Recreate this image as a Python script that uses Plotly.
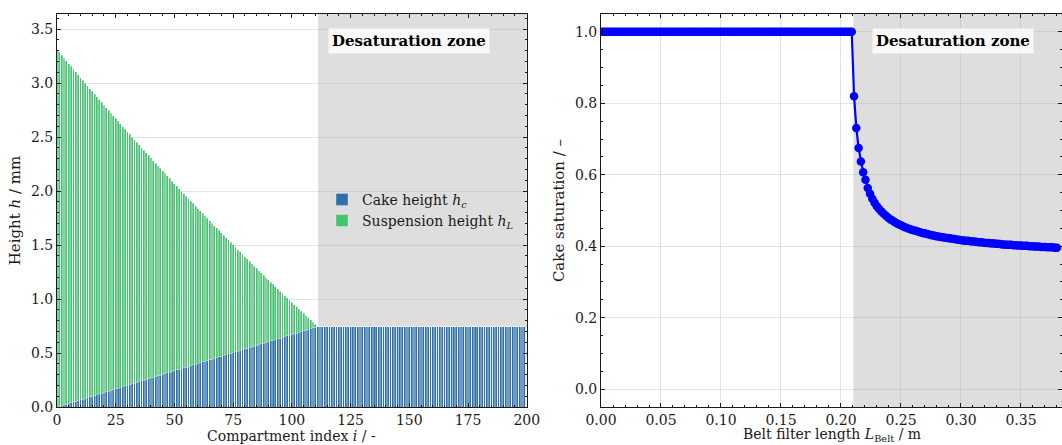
import plotly.graph_objects as go

# ---------------- data ----------------
compartment_index = list(range(200))

cake_height = [
    0.000, 0.007, 0.013, 0.020, 0.027, 0.034, 0.040, 0.047, 0.054, 0.060,
    0.067, 0.074, 0.081, 0.087, 0.094, 0.101, 0.108, 0.114, 0.121, 0.128,
    0.134, 0.141, 0.148, 0.155, 0.161, 0.168, 0.175, 0.181, 0.188, 0.195,
    0.202, 0.208, 0.215, 0.222, 0.228, 0.235, 0.242, 0.249, 0.255, 0.262,
    0.269, 0.276, 0.282, 0.289, 0.296, 0.302, 0.309, 0.316, 0.323, 0.329,
    0.336, 0.343, 0.349, 0.356, 0.363, 0.370, 0.376, 0.383, 0.390, 0.396,
    0.403, 0.410, 0.417, 0.423, 0.430, 0.437, 0.444, 0.450, 0.457, 0.464,
    0.470, 0.477, 0.484, 0.491, 0.497, 0.504, 0.511, 0.517, 0.524, 0.531,
    0.538, 0.544, 0.551, 0.558, 0.564, 0.571, 0.578, 0.585, 0.591, 0.598,
    0.605, 0.612, 0.618, 0.625, 0.632, 0.638, 0.645, 0.652, 0.659, 0.665,
    0.672, 0.679, 0.685, 0.692, 0.699, 0.706, 0.712, 0.719, 0.726, 0.732,
    0.739,
] + [0.742] * 89

suspension_height = [
    3.310, 3.277, 3.244, 3.212, 3.179, 3.146, 3.114, 3.081, 3.049, 3.016,
    2.984, 2.951, 2.919, 2.887, 2.855, 2.823, 2.791, 2.759, 2.727, 2.695,
    2.663, 2.631, 2.599, 2.568, 2.536, 2.505, 2.473, 2.442, 2.410, 2.379,
    2.348, 2.317, 2.285, 2.254, 2.223, 2.192, 2.161, 2.130, 2.100, 2.069,
    2.038, 2.007, 1.977, 1.946, 1.916, 1.885, 1.855, 1.825, 1.794, 1.764,
    1.734, 1.704, 1.674, 1.644, 1.614, 1.584, 1.554, 1.524, 1.495, 1.465,
    1.435, 1.406, 1.376, 1.347, 1.318, 1.288, 1.259, 1.230, 1.201, 1.172,
    1.143, 1.114, 1.085, 1.056, 1.027, 0.998, 0.969, 0.941, 0.912, 0.884,
    0.855, 0.827, 0.798, 0.770, 0.742, 0.713, 0.685, 0.657, 0.629, 0.601,
    0.573, 0.545, 0.518, 0.490, 0.462, 0.434, 0.407, 0.379, 0.352, 0.324,
    0.297, 0.270, 0.242, 0.215, 0.188, 0.161, 0.134, 0.107, 0.080, 0.053,
    0.026,
] + [0.0] * 89

segment_length = 0.0019  # m per compartment
belt_length = [round(k * segment_length, 4) for k in range(201)]

cake_saturation = [1.0] * 111 + [
    0.820, 0.731, 0.675, 0.637, 0.607, 0.586, 0.563, 0.547, 0.533, 0.522,
    0.512, 0.504, 0.497, 0.491, 0.485, 0.480, 0.475, 0.471, 0.467, 0.463,
    0.460, 0.457, 0.454, 0.452, 0.449, 0.447, 0.445, 0.443, 0.441, 0.439,
    0.437, 0.436, 0.434, 0.433, 0.431, 0.430, 0.428, 0.427, 0.426, 0.425,
    0.424, 0.423, 0.422, 0.421, 0.420, 0.419, 0.418, 0.417, 0.416, 0.415,
    0.415, 0.414, 0.413, 0.413, 0.412, 0.411, 0.411, 0.410, 0.409, 0.409,
    0.408, 0.408, 0.407, 0.407, 0.406, 0.405, 0.405, 0.404, 0.404, 0.404,
    0.403, 0.403, 0.402, 0.402, 0.401, 0.401, 0.401, 0.400, 0.400, 0.399,
    0.399, 0.399, 0.398, 0.398, 0.398, 0.397, 0.397, 0.397, 0.396, 0.396,
]

desat_start_compartment = 111.2
desat_start_length = 0.2103

left_xticks = [0, 25, 50, 75, 100, 125, 150, 175, 200]
left_yticks = [0.0, 0.5, 1.0, 1.5, 2.0, 2.5, 3.0, 3.5]
right_xticks = [0.00, 0.05, 0.10, 0.15, 0.20, 0.25, 0.30, 0.35]
right_yticks = [0.0, 0.2, 0.4, 0.6, 0.8, 1.0]

# ---------------- style ----------------
FONT = "DejaVu Serif"
BLUE_BAR = "#2e6fae"
GREEN_BAR = "#44c46f"
LINE_BLUE = "#0000ff"
ZONE_GRAY = "#dedede"
GRID = "rgba(176,176,176,0.35)"
AXIS = "#1a1a1a"

fig = go.Figure()

fig.add_trace(go.Bar(
    x=compartment_index, y=cake_height, name="Cake height <i>h</i><sub><i>c</i></sub>",
    marker=dict(color=BLUE_BAR, line=dict(width=0.35, color="rgba(255,255,255,0.9)")),
    xaxis="x", yaxis="y",
))
fig.add_trace(go.Bar(
    x=compartment_index, y=suspension_height, name="Suspension height <i>h</i><sub><i>L</i></sub>",
    marker=dict(color=GREEN_BAR, line=dict(width=0.35, color="rgba(255,255,255,0.9)")),
    xaxis="x", yaxis="y",
))
fig.add_trace(go.Scatter(
    x=belt_length, y=cake_saturation, mode="lines+markers",
    line=dict(color=LINE_BLUE, width=2.2),
    marker=dict(color=LINE_BLUE, size=8.5),
    showlegend=False, xaxis="x2", yaxis="y2",
))


def axis_common():
    return dict(
        ticks="inside", ticklen=4, tickwidth=1, tickcolor=AXIS,
        showline=True, linecolor=AXIS, linewidth=1, mirror="allticks",
        zeroline=False,
        tickfont=dict(family=FONT, size=14, color=AXIS),
        title_font=dict(family=FONT, size=15, color=AXIS),
        automargin=False,
    )


title_font = dict(family=FONT, size=14, color=AXIS)
PLOT_H = 445 - 14 - 38

fig.update_layout(
    width=1062, height=445,
    margin=dict(l=57, r=0, t=14, b=38),
    paper_bgcolor="white", plot_bgcolor="white",
    barmode="stack", bargap=0.2,
    font=dict(family=FONT, size=14, color=AXIS),
    xaxis=dict(
        domain=[0, 0.4674], range=[0, 200], tickvals=left_xticks,
        showgrid=False,
        minor=dict(dtick=5, ticks="inside", ticklen=2, tickcolor=AXIS, showgrid=False),
        anchor="y",
        **axis_common(),
    ),
    yaxis=dict(
        domain=[0, 1], range=[0, 3.64], tickvals=left_yticks, tickformat=".1f",
        showgrid=True, gridcolor=GRID, gridwidth=1,
        minor=dict(dtick=0.1, ticks="inside", ticklen=2, tickcolor=AXIS, showgrid=False),
        title=dict(text="Height <i>h</i> / mm", standoff=6),
        anchor="x",
        **axis_common(),
    ),
    xaxis2=dict(
        domain=[0.5413, 1.0], range=[0, 0.3842], tickvals=right_xticks, tickformat=".2f",
        showgrid=True, gridcolor=GRID, gridwidth=1,
        minor=dict(dtick=0.01, ticks="inside", ticklen=2, tickcolor=AXIS, showgrid=False),
        anchor="y2",
        **axis_common(),
    ),
    yaxis2=dict(
        domain=[0, 1], range=[-0.05, 1.05], tickvals=right_yticks, tickformat=".1f",
        showgrid=True, gridcolor=GRID, gridwidth=1,
        minor=dict(dtick=0.05, ticks="inside", ticklen=2, tickcolor=AXIS, showgrid=False),
        title=dict(text="Cake saturation / –", standoff=6),
        anchor="x2",
        **axis_common(),
    ),
    legend=dict(
        x=0.2637, y=0.568, xanchor="left", yanchor="top",
        bgcolor="rgba(0,0,0,0)", borderwidth=0,
        font=dict(family=FONT, size=14, color=AXIS),
        tracegroupgap=0, traceorder="normal",
    ),
    shapes=[
        dict(type="rect", xref="x", yref="y domain", x0=desat_start_compartment, x1=200,
             y0=0, y1=1, fillcolor=ZONE_GRAY, line=dict(width=0), layer="below"),
        dict(type="rect", xref="x2", yref="y2 domain", x0=desat_start_length, x1=0.3842,
             y0=0, y1=1, fillcolor=ZONE_GRAY, line=dict(width=0), layer="below"),
    ],
    annotations=[
        dict(text="<b>Desaturation zone</b>", xref="x domain", yref="y domain",
             x=0.7497, y=0.932, xanchor="center", yanchor="middle", showarrow=False,
             font=dict(family=FONT, size=15, color="black"),
             bgcolor="rgba(255,255,255,0.8)", borderpad=3),
        dict(text="<b>Desaturation zone</b>", xref="x2 domain", yref="y2 domain",
             x=0.7625, y=0.932, xanchor="center", yanchor="middle", showarrow=False,
             font=dict(family=FONT, size=15, color="black"),
             bgcolor="rgba(255,255,255,0.8)", borderpad=3),
        # x-axis titles placed just below the tick labels (as in the reference)
        dict(text="Compartment index <i>i</i> / -", xref="x domain", yref="paper",
             x=0.5, y=-38 / PLOT_H, xanchor="center", yanchor="bottom", showarrow=False,
             font=title_font, borderpad=0),
        dict(text="Belt filter length <i>L</i><sub>Belt</sub> / m", xref="x2 domain", yref="paper",
             x=0.5, y=-38 / PLOT_H, xanchor="center", yanchor="bottom", showarrow=False,
             font=title_font, borderpad=0),
    ],
)

fig.write_html("out.html")
